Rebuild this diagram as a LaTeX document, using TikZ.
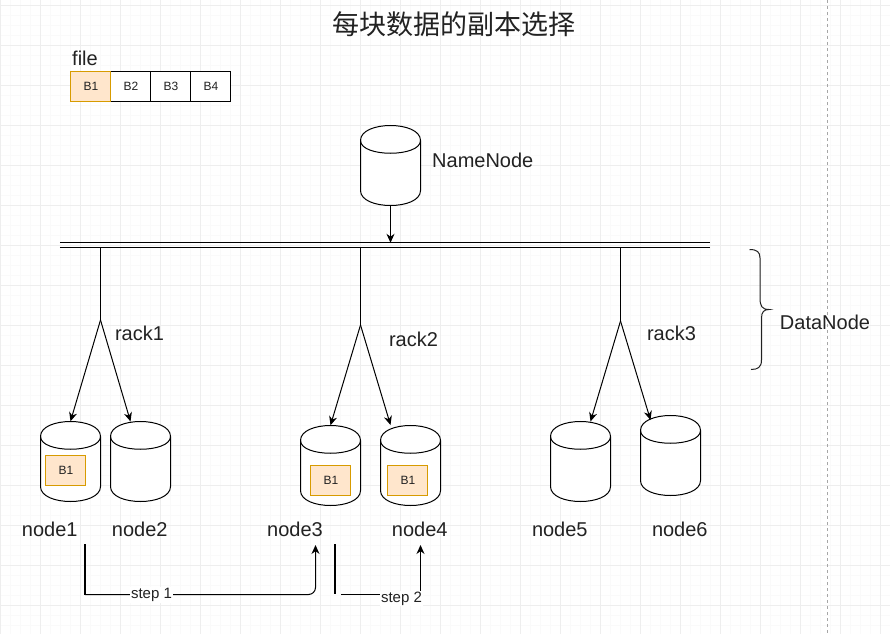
\documentclass[tikz,border=0pt]{standalone}
\usepackage{fontspec}
\setmainfont{Liberation Sans}
\newfontfamily\cjkfont{Noto Sans CJK SC}
\usetikzlibrary{arrows.meta,calc}
\definecolor{gridmajor}{HTML}{EEEEEE}
\definecolor{gridminor}{HTML}{FAFAFA}
\definecolor{blockfill}{HTML}{FFE6CC}
\definecolor{blockline}{HTML}{D79B00}
\definecolor{inkgrey}{HTML}{222222}
\tikzset{
  x=1pt,y=-1pt,
  conn/.style={line width=1pt,black},
  arrowconn/.style={conn,-{Stealth[length=9pt,width=8pt]}},
  thickbar/.style={line width=2pt,black},
  cylbox/.style={rectangle,inner sep=0pt,minimum width=60pt,minimum height=80pt},
  cylline/.style={line width=1pt,black,fill=white},
  plainblock/.style={rectangle,draw=black,fill=white,line width=1pt,inner sep=0pt,minimum width=40pt,minimum height=30pt,font=\fontsize{12}{14}\selectfont,text=inkgrey},
  fillblock/.style={plainblock,draw=blockline,fill=blockfill},
  lab/.style={inner sep=0pt,font=\fontsize{20}{24}\selectfont,text=inkgrey},
  steplab/.style={fill=white,inner sep=1pt,font=\fontsize{15}{17}\selectfont,text=inkgrey},
}
% cylinder: name, left x, top y
\newcommand{\cylshape}[3]{%
  \node[cylbox] (#1) at (#2+30,#3+40) {};
  \draw[cylline] (#2,#3+15) .. controls (#2,#3-5) and (#2+60,#3-5) .. (#2+60,#3+15)
    -- (#2+60,#3+65) .. controls (#2+60,#3+85) and (#2,#3+85) .. (#2,#3+65) -- cycle;
  \draw[cylline,fill=none] (#2,#3+15) .. controls (#2,#3+32) and (#2+60,#3+32) .. (#2+60,#3+15);
}
\begin{document}
\begin{tikzpicture}
\useasboundingbox (0,0) rectangle (890,634);
\fill[white] (0,0) rectangle (890,634);
% grid
\foreach \gx in {10,20,...,880} \draw[gridminor,line width=1pt] (\gx+.5,0) -- (\gx+.5,634);
\foreach \gy in {5,15,...,625} \draw[gridminor,line width=1pt] (0,\gy+.5) -- (890,\gy+.5);
\foreach \gx in {0,40,...,880} \draw[gridmajor,line width=1pt] (\gx+.5,0) -- (\gx+.5,634);
\foreach \gy in {5,45,...,605} \draw[gridmajor,line width=1pt] (0,\gy+.5) -- (890,\gy+.5);
% page break line
\draw[black!35,line width=1pt,dash pattern=on 3pt off 3pt] (827.5,0) -- (827.5,634);

% title
\node[inner sep=0pt,font=\cjkfont\fontsize{27}{30}\selectfont,text=inkgrey] (title) at (453.5,24) {每块数据的副本选择};

% file
\node[lab,anchor=west] (file) at (72,58) {file};
\node[plainblock] (f2) at (130.5,86.5) {\hspace{1pt}B2};
\node[plainblock] (f3) at (170.5,86.5) {\hspace{1pt}B3};
\node[plainblock] (f4) at (210.5,86.5) {\hspace{1pt}B4};
\node[fillblock] (f1) at (90.5,86.5) {\hspace{1pt}B1};

% NameNode
\cylshape{nn}{360.5}{125.5}
\node[lab,anchor=west] (nnlab) at (432,160.5) {NameNode};

% bus
\node[rectangle,inner sep=0pt,minimum width=650pt,minimum height=4pt] (bus) at (385,245) {};
\draw[conn] (bus.north west) -- (bus.north east);
\draw[conn] (bus.south west) -- (bus.south east);
\draw[arrowconn] (nn.south) -- (bus.north -| nn.south);

% racks
\coordinate (r1) at (100.5,320);
\coordinate (r2) at (360.5,325);
\coordinate (r3) at (620.5,321);
\draw[conn] (r1 |- bus.south) -- (r1);
\draw[conn] (r2 |- bus.south) -- (r2);
\draw[conn] (r3 |- bus.south) -- (r3);

% data nodes
\cylshape{n1}{40.5}{421.5}
\cylshape{n2}{110.5}{421.5}
\cylshape{n3}{300.5}{425.5}
\cylshape{n4}{380.5}{425.5}
\cylshape{n5}{550.5}{421.5}
\cylshape{n6}{640.5}{415.5}

% rack arrows
\draw[arrowconn] (r1) -- (n1.north);
\coordinate (t2) at (130.5,421.5);
\draw[arrowconn] (r1) -- (t2);
\draw[arrowconn] (r2) -- (n3.north);
\coordinate (t4) at (390.5,425);
\draw[arrowconn] (r2) -- (t4);
\coordinate (t5) at (590.5,421.5);
\draw[arrowconn] (r3) -- (t5);
\coordinate (t6) at (650.5,420);
\draw[arrowconn] (r3) -- (t6);

% stored blocks
\node[fillblock] (b1) at (65.5,470.5) {\hspace{1pt}B1};
\node[fillblock] (b3) at (330.5,480.5) {\hspace{1pt}B1};
\node[fillblock] (b4) at (407.5,480.5) {\hspace{1pt}B1};

% labels
\node[lab] (rack1) at (139.5,333) {rack1};
\node[lab] (rack2) at (413.5,339) {rack2};
\node[lab] (rack3) at (671.5,333) {rack3};
\node[lab] (dn) at (825,322) {DataNode};
\node[lab] (l1) at (49.8,529) {node1};
\node[lab] (l2) at (139.8,529) {node2};
\node[lab] (l3) at (295,529) {node3};
\node[lab] (l4) at (419.8,529) {node4};
\node[lab] (l5) at (559.8,529) {node5};
\node[lab] (l6) at (679.8,529) {node6};

% brace
\draw[inkgrey,line width=1pt] (749.5,249.5) .. controls (757,249.5) and (760,252) .. (760,258)
  -- (760,298) .. controls (760,306) and (762,309.5) .. (769,309.5)
  .. controls (764,309.5) and (761.5,312) .. (761.5,318)
  -- (761.5,360) .. controls (761.5,367) and (758,369.5) .. (751,369.5);

% step 1
\coordinate (s1a) at (85,544);
\coordinate (s1b) at (85,594.5);
\coordinate (s1c) at (315.5,545);
\draw[thickbar] (s1a) -- (s1b);
\draw[arrowconn,rounded corners=7pt] (s1b) -- (315.5,594.5) -- (s1c);
\node[steplab] (st1) at (151.5,595) {step 1};

% step 2
\coordinate (s2a) at (335,544);
\coordinate (s2b) at (335,594);
\coordinate (s2c) at (341,594.5);
\coordinate (s2d) at (420.5,545);
\draw[thickbar] (s2a) -- (s2b);
\draw[arrowconn] (s2c) -- (420.5,594.5) -- (s2d);
\node[steplab] (st2) at (401.5,598.5) {step 2};
\end{tikzpicture}
\end{document}
